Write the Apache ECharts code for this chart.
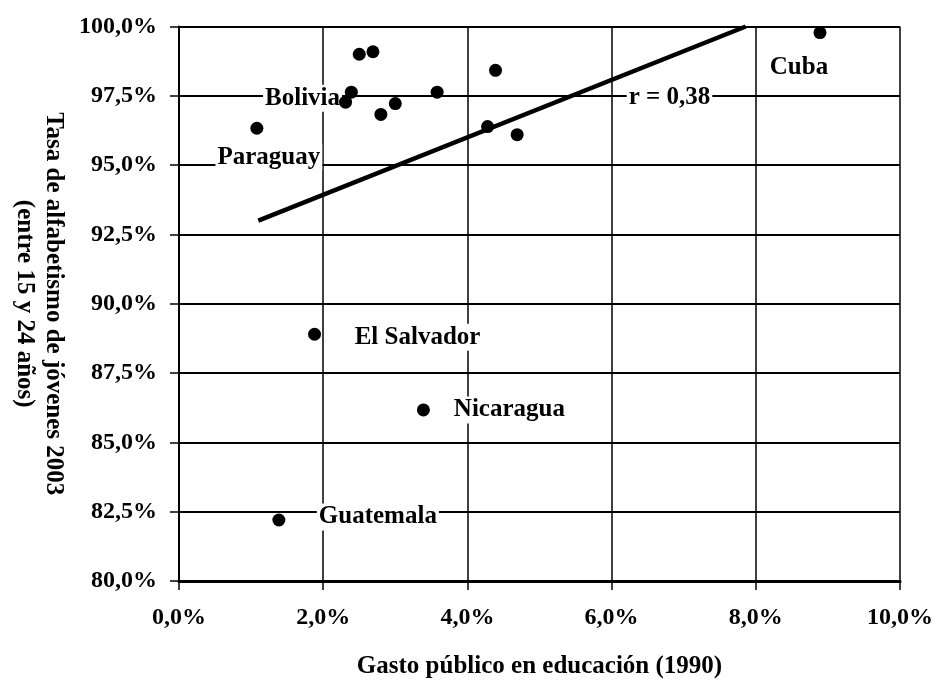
<!DOCTYPE html>
<html>
<head>
<meta charset="utf-8">
<script src="https://cdn.jsdelivr.net/npm/echarts@6/dist/echarts.min.js"></script>
<style>
  html, body { margin: 0; padding: 0; background: #fff; }
  #chart { width: 936px; height: 684px; }
</style>
</head>
<body>
<div id="chart"></div>
<script>
// ---- data ----
const countryNames = ['Paraguay', 'Bolivia', '', '', '', '', '', '', '', '', '', 'Cuba', 'El Salvador', 'Nicaragua', 'Guatemala'];
const gastoEducacion = [1.08, 2.31, 2.50, 2.69, 2.39, 2.80, 3.00, 3.58, 4.39, 4.28, 4.69, 8.89, 1.88, 3.39, 1.385];
const alfabetismo = [96.33, 97.27, 99.00, 99.09, 97.63, 96.83, 97.22, 97.63, 98.42, 96.39, 96.10, 99.78, 88.90, 86.17, 82.20];
const trendX = [1.10, 7.86];
const trendY = [93.0, 100.0];
const trendLabel = 'r = 0,38';
const xTicks = [0, 2, 4, 6, 8, 10];
const yTicks = [80, 82.5, 85, 87.5, 90, 92.5, 95, 97.5, 100];
const xTitle = 'Gasto público en educación (1990)';
const yTitle = 'Tasa de alfabetismo de jóvenes 2003\n(entre 15 y 24 años)';

// ---- label placement (pixel offsets from the point) ----
const labelOffsets = {
  'Paraguay': [12, 29],
  'Bolivia': [-43, -4],
  'Cuba': [-21, 35],
  'El Salvador': [103, 3],
  'Nicaragua': [86, 0],
  'Guatemala': [99, -3]
};

const FONT = 'Liberation Serif';
const fmt = v => v.toFixed(1).replace('.', ',') + '%';

const points = gastoEducacion.map((x, i) => ({ name: countryNames[i], value: [x, alfabetismo[i]] }));
const labelPoints = points.filter(p => p.name).map(p => ({
  name: p.name,
  value: p.value,
  label: { offset: labelOffsets[p.name] }
}));
const trendData = trendX.map((x, i) => [x, trendY[i]]);

const chart = echarts.init(document.getElementById('chart'), null, { renderer: 'canvas' });
chart.setOption({
  animation: false,
  backgroundColor: '#fff',
  grid: { left: 179, right: 35, top: 26.5, bottom: 103, show: false },
  xAxis: {
    type: 'value', min: 0, max: 10, interval: 2,
    name: xTitle, nameLocation: 'middle', nameGap: 73,
    nameTextStyle: { fontFamily: FONT, fontWeight: 'bold', fontSize: 25, color: '#000', verticalAlign: 'top' },
    axisLine: { show: true, lineStyle: { color: '#000', width: 3 } },
    axisTick: { show: true, inside: false, length: 9, lineStyle: { color: '#000', width: 1.5 } },
    axisLabel: { formatter: fmt, fontFamily: FONT, fontWeight: 'bold', fontSize: 24, color: '#000', margin: 25 },
    splitLine: { show: true, lineStyle: { color: '#000', width: 1.5 } }
  },
  yAxis: {
    type: 'value', min: 80, max: 100, interval: 2.5,
    name: yTitle, nameLocation: 'middle', nameGap: 62, nameRotate: -90,
    nameTextStyle: { fontFamily: FONT, fontWeight: 'bold', fontSize: 25, color: '#000', lineHeight: 29 },
    axisLine: { show: true, lineStyle: { color: '#000', width: 2 } },
    axisTick: { show: true, inside: false, length: 9, lineStyle: { color: '#000', width: 1.5 } },
    axisLabel: { formatter: fmt, fontFamily: FONT, fontWeight: 'bold', fontSize: 24, color: '#000', margin: 22 },
    splitLine: { show: true, lineStyle: { color: '#000', width: 2 } }
  },
  series: [
    {
      type: 'scatter', z: 2, symbolSize: 0, silent: true,
      itemStyle: { color: '#000', opacity: 1 },
      data: labelPoints,
      label: {
        show: true, position: 'inside', formatter: '{b}',
        fontFamily: FONT, fontWeight: 'bold', fontSize: 25, color: '#000',
        backgroundColor: '#fff', padding: [1, 2]
      }
    },
    {
      type: 'line', z: 3, showSymbol: false, symbol: 'none',
      data: trendData,
      lineStyle: { color: '#000', width: 4.5 },
      endLabel: {
        show: true, formatter: trendLabel, offset: [-127, 71],
        fontFamily: FONT, fontWeight: 'bold', fontSize: 25, color: '#000',
        backgroundColor: '#fff', padding: [1, 2]
      }
    },
    {
      type: 'scatter', z: 4, symbol: 'circle', symbolSize: 13,
      itemStyle: { color: '#000', opacity: 1 },
      data: points
    }
  ]
});
</script>
</body>
</html>
